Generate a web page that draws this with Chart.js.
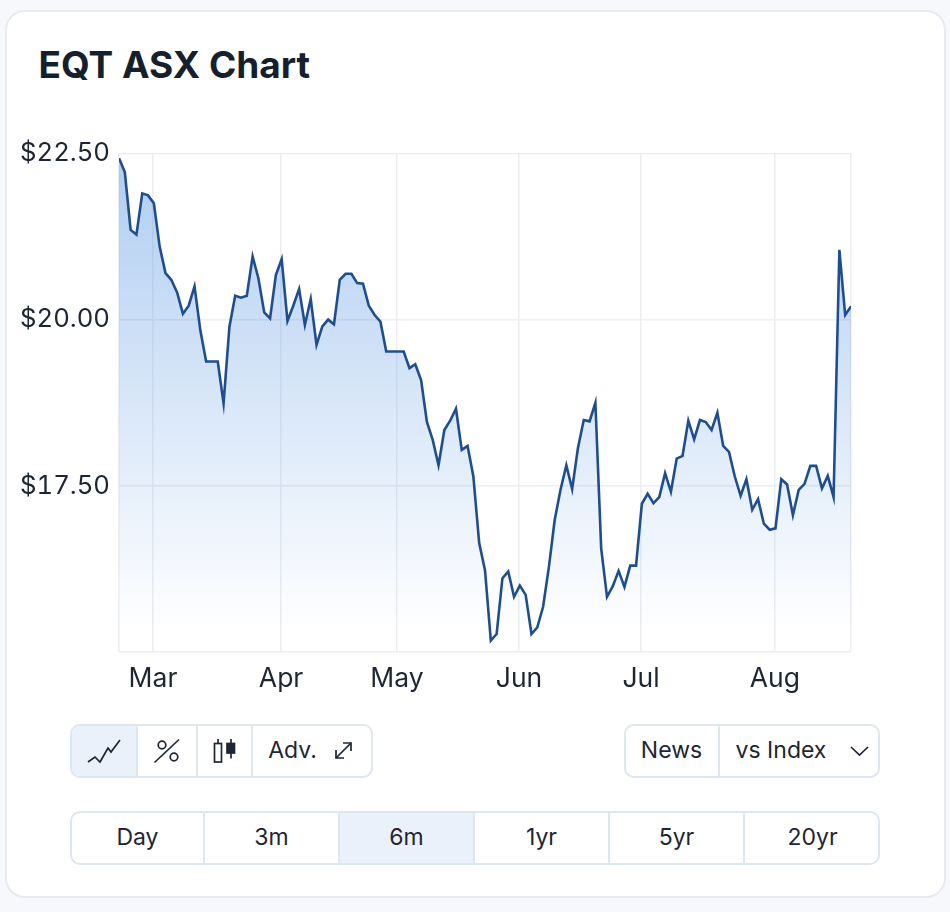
<!DOCTYPE html>
<html><head><meta charset="utf-8">
<style>
html,body{margin:0;padding:0;width:950px;height:912px;overflow:hidden;background:#f6f8fb;font-family:Inter,"Liberation Sans",sans-serif;color:#1a2230}
#card{position:absolute;left:5px;top:10px;width:937px;height:884px;background:#fff;border:2px solid #e6ebf2;border-radius:20px}
h1{position:absolute;left:38.5px;top:41.5px;margin:0;font-size:37px;line-height:46px;font-weight:700;color:#161f2e;letter-spacing:0}
canvas{position:absolute;left:0;top:0;font-variant-numeric:tabular-nums;font-feature-settings:"tnum"}
.grp{position:absolute;box-sizing:border-box;border:2px solid #dfe6ee;border-radius:10px;background:#fff}
.seg{position:absolute;top:0;bottom:0;display:flex;align-items:center;justify-content:center;box-sizing:border-box;font-size:23px;color:#1e2633;padding-bottom:2px}
.d{border-right:2px solid #dfe6ee}
.on{background:#ebf1fa}
svg{position:absolute;left:0;top:0;pointer-events:none}
</style></head><body>
<div id="card"></div>
<h1>EQT ASX Chart</h1>
<div style="position:absolute;left:0;top:0;width:950px;height:700px"><canvas id="c" width="950" height="700" style="width:950px;height:700px"></canvas></div>

<div class="grp" style="left:70px;top:724px;width:303px;height:54px">
 <div class="seg d on" style="left:0;width:66px;border-radius:8px 0 0 8px"></div>
 <div class="seg d" style="left:66px;width:60px"></div>
 <div class="seg d" style="left:126px;width:55px"></div>
 <div class="seg" style="left:198px;width:45px">Adv.</div>
</div>
<div class="grp" style="left:624px;top:724px;width:256px;height:54px">
 <div class="seg d" style="left:0;width:94px;padding-right:1px">News</div>
 <div class="seg" style="left:109px;width:92px">vs Index</div>
</div>
<div class="grp" style="left:70px;top:811px;width:810px;height:54px">
 <div class="seg d" style="left:0;width:133px">Day</div>
 <div class="seg d" style="left:133px;width:135px">3m</div>
 <div class="seg d on" style="left:268px;width:135px">6m</div>
 <div class="seg d" style="left:403px;width:135px">1yr</div>
 <div class="seg d" style="left:538px;width:135px">5yr</div>
 <div class="seg" style="left:673px;width:135px">20yr</div>
</div>
<svg width="950" height="912" fill="none" stroke="#1e2633" stroke-width="1.7">
 <polyline points="88,762 95,757 100,762 108,748 111,752 120,740"/>
 <line x1="154.5" y1="762.5" x2="179" y2="739.5"/>
 <circle cx="162" cy="745" r="3.8"/><circle cx="174" cy="757" r="3.8"/>
 <rect x="214.5" y="743.5" width="7" height="18.5"/><line x1="218" y1="739" x2="218" y2="743.5"/>
 <rect x="227" y="743.5" width="7.5" height="9.5" fill="#1e2633"/><line x1="231" y1="739" x2="231" y2="758.5"/>
 <polyline points="336,750 336,758 344,758"/><polyline points="343,743 351,743 351,751"/><line x1="336" y1="758" x2="351" y2="743"/>
 <polyline points="851,747 859.5,755 868,747"/>
</svg>

<script src="https://cdn.jsdelivr.net/npm/chart.js@4"></script>
<script>
const closes=[22.43,22.22,21.35,21.28,21.90,21.87,21.75,21.10,20.70,20.60,20.41,20.09,20.21,20.50,19.84,19.37,19.37,19.37,18.74,19.89,20.36,20.33,20.36,20.95,20.62,20.11,20.02,20.67,20.91,19.98,20.21,20.46,19.92,20.31,19.62,19.90,20.00,19.93,20.60,20.69,20.69,20.55,20.54,20.21,20.07,19.97,19.52,19.52,19.52,19.52,19.27,19.33,19.09,18.46,18.19,17.81,18.34,18.48,18.66,18.04,18.10,17.64,16.64,16.23,15.17,15.27,16.11,16.21,15.83,16.00,15.86,15.27,15.37,15.68,16.28,16.99,17.44,17.81,17.45,18.07,18.49,18.47,18.75,16.56,15.83,15.99,16.22,15.98,16.30,16.30,17.23,17.38,17.24,17.33,17.69,17.41,17.91,17.95,18.48,18.20,18.49,18.46,18.34,18.60,18.10,18.01,17.64,17.35,17.60,17.14,17.30,16.93,16.84,16.86,17.60,17.52,17.06,17.44,17.53,17.80,17.80,17.46,17.65,17.33,21.05,20.07,20.20];
const monthNames=["Mar","Apr","May","Jun","Jul","Aug"];
const monthStarts=[5.85,27.9,47.85,68.85,89.85,112.9];
const priceTicks=[15,17.5,20,22.5];
const lastIndex=closes.length-1;
new Chart(document.getElementById('c'),{
 type:'line',
 data:{datasets:[{data:closes.map((y,x)=>({x,y})),borderColor:'#1f4e8f',borderWidth:2.6,pointRadius:0,tension:0,fill:'start',
  backgroundColor(ctx){const a=ctx.chart.chartArea;if(!a)return 'transparent';
   const g=ctx.chart.ctx.createLinearGradient(0,a.top,0,a.bottom);
   g.addColorStop(0,'rgba(88,150,226,0.48)');g.addColorStop(0.96,'rgba(88,150,226,0)');g.addColorStop(1,'rgba(88,150,226,0)');return g;}}]},
 options:{responsive:false,animation:false,devicePixelRatio:1,
  layout:{padding:{top:153.5,right:99,left:0,bottom:0}},
  plugins:{legend:{display:false},tooltip:{enabled:false}},
  scales:{
   x:{type:'linear',min:0,max:lastIndex,offset:false,border:{display:false},
    grid:{color:'#eceef2',lineWidth:1.5,drawTicks:false},
    afterBuildTicks(ax){ax.ticks=[0,...monthStarts,lastIndex].map(v=>({value:v}));},
    afterFit(ax){ax.height=48;},
    ticks:{autoSkip:false,maxRotation:0,padding:11,color:'#1e2633',font:{family:"Inter",size:26.5},
     callback(v){const m=monthStarts.indexOf(v);return m>=0?monthNames[m]:'';}}},
   y:{min:15,max:22.5,border:{display:false},
    grid:{color:'#eceef2',lineWidth:1.5,drawTicks:false},
    afterBuildTicks(ax){ax.ticks=priceTicks.map(v=>({value:v}));},
    afterFit(ax){ax.width=119;},
    ticks:{padding:9,color:'#1e2633',font:{family:"Inter",size:25.7},callback(v){return v===15?'':'$'+v.toFixed(2);}}}
  }}
});
</script>
</body></html>
